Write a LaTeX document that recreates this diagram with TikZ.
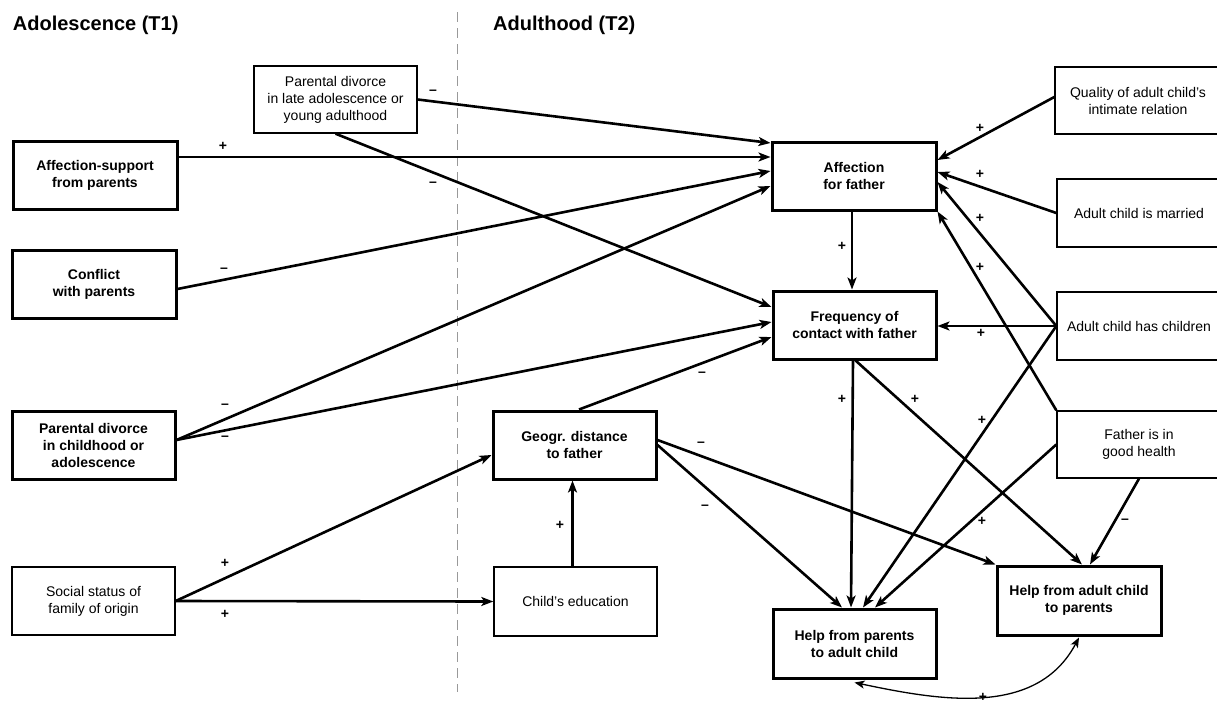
\documentclass[tikz,border=0pt]{standalone}
\usepackage{fontspec}
\setmainfont{Liberation Sans}
\usetikzlibrary{arrows.meta}
\begin{document}
\begin{tikzpicture}[x=1pt,y=-1pt,
  thickbox/.style={draw, line width=3pt, font=\bfseries\fontsize{14}{17}\selectfont, align=center, inner sep=0pt, minimum width=164pt, minimum height=68pt},
  thinbox/.style={draw, line width=1.4pt, font=\fontsize{14}{17}\selectfont, align=center, inner sep=0pt, minimum width=163pt, minimum height=67pt},
  conn/.style={line width=2.6pt, -{Stealth[length=12pt,width=9pt,inset=3pt]}},
  curvconn/.style={line width=1.3pt, {Stealth[length=10pt,width=8pt,inset=2.5pt]}-{Stealth[length=10pt,width=8pt,inset=2.5pt]}},
  sign/.style={font=\bfseries\fontsize{14}{17}\selectfont, inner sep=0pt},
  title/.style={font=\bfseries\fontsize{20}{24}\selectfont, anchor=base west, inner sep=0pt},
]
\useasboundingbox (0,0) rectangle (1217,704);

% titles and separator
\node[title] (t1) at (12.7,30) {Adolescence (T1)};
\node[title] (t2) at (493,30) {Adulthood (T2)};
\draw[gray!80, line width=1pt, dash pattern=on 10pt off 6pt] (457,12) -- (457,692);

% left column
\node[thinbox] (pdl) at (335.5,99.5) {Parental divorce\\in late adolescence or\\young adulthood};
\node[thickbox] (affsup) at (95,175.5) {Affection-support\\from parents};
\node[thickbox] (conf) at (94,284) {Conflict\\with parents};
\node[thickbox, minimum width=163pt] (pdc) at (93.5,445) {Parental divorce\\in childhood or\\adolescence};
\node[thinbox, minimum height=68pt] (soc) at (93.5,601) {Social status of\\family of origin};

% middle
\node[thickbox, minimum width=163pt] (geo) at (574.5,445) {Geogr. distance\\to father};
\node[thinbox, minimum height=69pt] (edu) at (575.5,601.5) {Child's education};

% central column
\node[thickbox] (aff) at (854,176) {Affection\\for father};
\node[thickbox, minimum width=163pt] (freq) at (854.5,325) {Frequency of\\contact with father};
\node[thickbox, minimum width=163pt, minimum height=69pt] (hpa) at (854.5,643.5) {Help from parents\\to adult child};
\node[thickbox, minimum height=69pt] (hac) at (1079,600.5) {Help from adult child\\to parents};

% right column
\node[thinbox, minimum width=166pt] (qual) at (1138,100.5) {Quality of adult child's\\intimate relation};
\node[thinbox, minimum width=164pt, minimum height=68pt] (marr) at (1139,213) {Adult child is married};
\node[thinbox, minimum width=164pt, minimum height=68pt] (chil) at (1139,326) {Adult child has children};
\node[thinbox, minimum width=164pt, minimum height=67pt] (fath) at (1139,444.5) {Father is in\\good health};

% connectors into Affection for father
\draw[conn] (pdl.east) -- ([yshift=33pt]aff.west);
\draw[conn] ([yshift=18.5pt]affsup.east) -- ([yshift=19pt]aff.west);
\draw[conn] ([yshift=-5pt]conf.east) -- ([yshift=5pt]aff.west);
\draw[conn] ([yshift=5pt]pdc.east) -- ([yshift=-10pt]aff.west);
\draw[conn] ([yshift=3.5pt]qual.west) -- ([yshift=16pt]aff.east);
\draw[conn] (marr.west) -- ([yshift=4pt]aff.east);
\draw[conn] (chil.west) -- ([yshift=-6pt]aff.east);
\draw[conn] (fath.north west) -- (aff.south east);

% connectors into Frequency of contact
\draw[conn] (pdl.south) -- ([yshift=18pt]freq.west);
\draw[conn] ([yshift=5pt]pdc.east) -- ([yshift=3pt]freq.west);
\draw[conn] ([xshift=4.5pt]geo.north) -- ([yshift=-12pt]freq.west);
\draw[conn] ([xshift=-2pt]aff.south) -- ([xshift=-2.5pt]freq.north);
\draw[conn] (chil.west) -- (chil.west -| freq.east);

% connectors into help nodes
\draw[conn] (chil.west) -- ([xshift=8.5pt]hpa.north);
\draw[conn] (fath.west) -- ([xshift=20.5pt]hpa.north);
\draw[conn] (fath.south) -- ([xshift=11pt]hac.north);
\draw[conn] ([xshift=-1.5pt]freq.south) -- ([xshift=-3.5pt]hpa.north);
\draw[conn] ([xshift=1pt]freq.south) -- ([xshift=3pt]hac.north);
\draw[conn] ([yshift=5pt]geo.east) -- (hac.north west);
\draw[conn] (geo.east) -- ([xshift=-12.5pt]hpa.north);

% social status and education
\draw[conn] (soc.east) -- ([yshift=-10pt]geo.west);
\draw[conn] (soc.east) -- (edu.west);
\draw[conn] ([xshift=-3pt]edu.north) -- ([xshift=-2pt]geo.south);

% reciprocal help
\draw[curvconn] ([yshift=-3pt]hpa.south) to[out=-12,in=-118] ([yshift=-1pt]hac.south);

% signs
\node[sign] (s1) at (433,92) {–};
\node[sign] (s2) at (223,146) {+};
\node[sign] (s3) at (433,184) {–};
\node[sign] (s4) at (224,270) {–};
\node[sign] (s5) at (225,406) {–};
\node[sign] (s6) at (225,438) {–};
\node[sign] (s7) at (702,374) {–};
\node[sign] (s8) at (842,246) {+};
\node[sign] (s9) at (980,128) {+};
\node[sign] (s10) at (980,174) {+};
\node[sign] (s11) at (980,218) {+};
\node[sign] (s12) at (980,267) {+};
\node[sign] (s13) at (981,333) {+};
\node[sign] (s14) at (842,399) {+};
\node[sign] (s15) at (915,399) {+};
\node[sign] (s16) at (982,420) {+};
\node[sign] (s17) at (982,521) {+};
\node[sign] (s18) at (1125,521) {–};
\node[sign] (s19) at (701,444) {–};
\node[sign] (s20) at (705,507) {–};
\node[sign] (s21) at (225,563) {+};
\node[sign] (s22) at (225,614) {+};
\node[sign] (s23) at (560,525) {+};
\node[sign] (s24) at (983,697) {+};
\end{tikzpicture}
\end{document}
